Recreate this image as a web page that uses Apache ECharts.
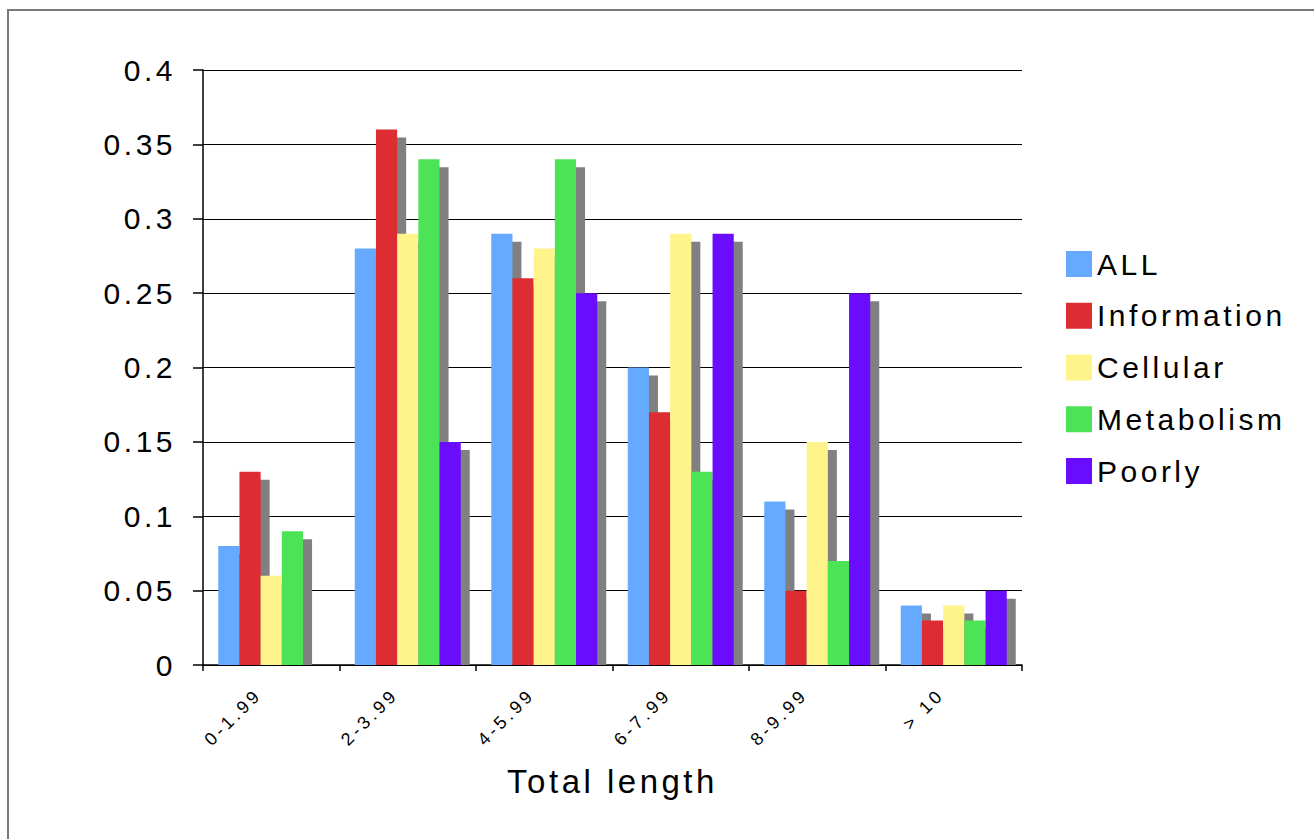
<!DOCTYPE html>
<html>
<head>
<meta charset="utf-8">
<script src="https://cdn.jsdelivr.net/npm/echarts@6/dist/echarts.min.js"></script>
<style>
  html, body { margin: 0; padding: 0; background: #fff; }
  #chart { width: 1314px; height: 839px; }
  #chart text { letter-spacing: 3.5px; }
</style>
</head>
<body>
<div id="chart"></div>
<script>
const categories = ['0-1.99', '2-3.99', '4-5.99', '6-7.99', '8-9.99', '> 10'];
const seriesNames = ['ALL', 'Information', 'Cellular', 'Metabolism', 'Poorly'];
const allValues = [0.08, 0.28, 0.29, 0.20, 0.11, 0.04];
const informationValues = [0.13, 0.36, 0.26, 0.17, 0.05, 0.03];
const cellularValues = [0.06, 0.29, 0.28, 0.29, 0.15, 0.04];
const metabolismValues = [0.09, 0.34, 0.34, 0.13, 0.07, 0.03];
const poorlyValues = [0, 0.15, 0.25, 0.29, 0.25, 0.05];
const yTickLabels = ['0', '0.05', '0.1', '0.15', '0.2', '0.25', '0.3', '0.35', '0.4'];
const colors = ['#66AAFF', '#DD2D32', '#FFF48C', '#4CE356', '#6A0DFF'];

const seriesValues = [allValues, informationValues, cellularValues, metabolismValues, poorlyValues];

const FONT = "'Liberation Sans', Arial, sans-serif";
const gridLeft = 203, gridTop = 70, gridWidth = 819, gridHeight = 595;
const yMax = 0.4;
const shadowDx = 9, shadowDy = 8;
const shadowDrop = yMax * shadowDy / gridHeight;
const barW = 21.2;

const series = [];
seriesValues.forEach((vals, i) => {
  series.push({
    name: 'shadow' + i,
    type: 'bar',
    xAxisIndex: 1,
    yAxisIndex: 1,
    barWidth: barW,
    barGap: '0%',
    z: 1,
    silent: true,
    itemStyle: { color: '#808080' },
    data: vals.map(v => Math.max(0, v - shadowDrop))
  });
});
seriesValues.forEach((vals, i) => {
  series.push({
    name: seriesNames[i],
    type: 'bar',
    xAxisIndex: 0,
    yAxisIndex: 0,
    barWidth: barW,
    barGap: '0%',
    z: 2,
    itemStyle: { color: colors[i] },
    data: vals
  });
});

const chart = echarts.init(document.getElementById('chart'), null, { renderer: 'svg' });
chart.setOption({
  animation: false,
  backgroundColor: '#fff',
  textStyle: { fontFamily: FONT },
  graphic: [{
    type: 'rect',
    shape: { x: 8, y: 10, width: 1400, height: 900 },
    style: { fill: 'none', stroke: '#7a7a7a', lineWidth: 2 },
    silent: true,
    z: -10
  }],
  legend: {
    data: seriesNames,
    orient: 'vertical',
    left: 1066,
    top: 249,
    padding: 0,
    itemWidth: 26,
    itemHeight: 26,
    itemGap: 21.75,
    icon: 'rect',
    textStyle: { fontFamily: FONT, fontSize: 30, color: '#000' }
  },
  grid: [
    { left: gridLeft, top: gridTop, width: gridWidth, height: gridHeight, containLabel: false },
    { left: gridLeft + shadowDx, top: gridTop, width: gridWidth, height: gridHeight, containLabel: false }
  ],
  xAxis: [{
    type: 'category',
    gridIndex: 0,
    data: categories,
    boundaryGap: true,
    name: 'Total length',
    nameLocation: 'middle',
    nameGap: 100,
    nameTextStyle: { fontFamily: FONT, fontSize: 33, color: '#000' },
    axisLine: { show: true, lineStyle: { color: '#000', width: 1.5 } },
    axisTick: { show: true, length: 6, lineStyle: { color: '#000', width: 1.5 } },
    axisLabel: {
      rotate: 45, margin: 14, fontSize: 18, color: '#000', fontFamily: FONT,
      padding: [0, 18, 0, 0], interval: 0
    },
    splitLine: { show: false }
  }, {
    type: 'category',
    gridIndex: 1,
    data: categories,
    show: false
  }],
  yAxis: [{
    type: 'value',
    gridIndex: 0,
    min: 0,
    max: yMax,
    interval: 0.05,
    axisLine: { show: true, lineStyle: { color: '#000', width: 1.5 } },
    axisTick: { show: true, inside: false, length: 10, lineStyle: { color: '#000', width: 1.5 } },
    axisLabel: {
      margin: 27, fontSize: 30, color: '#000', fontFamily: FONT,
      formatter: (v) => yTickLabels[Math.round(v / 0.05)]
    },
    splitLine: { show: true, lineStyle: { color: '#000', width: 1.2 } }
  }, {
    type: 'value',
    gridIndex: 1,
    min: 0,
    max: yMax,
    interval: 0.05,
    show: false,
    splitLine: { show: false }
  }],
  series: series
});
</script>
</body>
</html>
